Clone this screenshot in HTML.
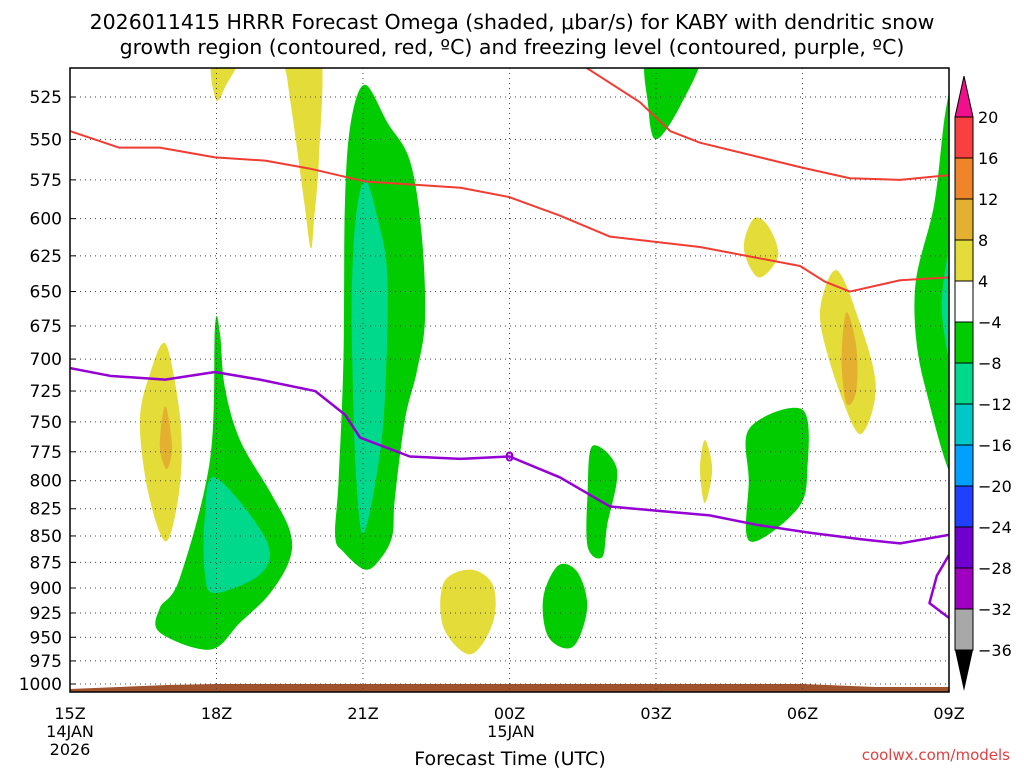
<!DOCTYPE html>
<html><head><meta charset="utf-8"><style>
body{margin:0;background:#fff;width:1024px;height:768px;overflow:hidden}
svg text{font-family:"DejaVu Sans","Liberation Sans",sans-serif}
</style></head><body>
<svg id="c" width="1024" height="768" xmlns="http://www.w3.org/2000/svg">
<text x="512" y="29" font-size="20.5" text-anchor="middle">2026011415 HRRR Forecast Omega (shaded, μbar/s) for KABY with dendritic snow</text>
<text x="512" y="54" font-size="20.5" text-anchor="middle">growth region (contoured, red, ºC) and freezing level (contoured, purple, ºC)</text>
<g id="plot"></g>
<text x="510" y="765" font-size="19" text-anchor="middle">Forecast Time (UTC)</text>
<text x="1010" y="760" font-size="15" fill="#e04040" text-anchor="end">coolwx.com/models</text>
</svg>
<script>
const pressureTicks=[525,550,575,600,625,650,675,700,725,750,775,800,825,850,875,900,925,950,975,1000];
const hourTicks=[0,3,6,9,12,15,18];
const hourLabels=["15Z","18Z","21Z","00Z","03Z","06Z","09Z"];
const cbLevels=["20","16","12","8","4","\u22124","\u22128","\u221212","\u221216","\u221220","\u221224","\u221228","\u221232","\u221236"];
const cbColors=["#f84040","#f08428","#e4b030","#e4dc38","#ffffff","#00cc00","#00d88c","#00c8c8","#00a0ff","#2040ff","#7000d0","#a000c0","#a8a8a8"];
const redLine1=[[0,545],[1,555],[1.84,555],[2.97,561],[4,563],[4.92,568],[6.04,576],[8,580],[9,586],[10.03,598],[11.06,612],[12.9,619],[14.95,632],[15.46,643],[15.97,650],[17,642],[18,640]];
const redLine2=[[10.55,508],[11.67,528],[12.29,545],[12.9,552],[14.95,567],[15.97,574],[17,575],[18,572]];
const purpleLine1=[[0,707],[0.82,713],[1.95,716],[2.97,710],[3.89,716],[5.02,725],[5.63,744],[5.94,763],[6.96,779],[8,781],[9,779],[10.03,797],[11.06,823],[12.08,827],[13.1,831],[14.1,840],[15.15,847],[16.18,853],[17,857],[18,849]];
const purpleLine2=[[18,868],[17.75,888],[17.6,915],[18,930]];
const blobs=[
 {c:"#e4dc38",n:"yellow-blob-top",p:[[2.9,506],[3.4,506],[3.2,518],[3.0,527]]},
 {c:"#e4dc38",n:"yellow-column",p:[[4.4,500],[5.12,500],[5.1,560],[5.0,600],[4.93,620],[4.8,590],[4.6,545],[4.45,515]]},
 {c:"#00cc00",n:"green-21z",p:[[6.04,518],[6.5,540],[6.96,563],[7.2,610],[7.27,670],[7.1,710],[6.86,748],[6.65,817],[6.6,850],[6.35,872],[6.04,882],[5.6,865],[5.43,850],[5.5,800],[5.6,700],[5.63,590],[5.75,540]]},
 {c:"#00d88c",n:"teal-21z",p:[[6.04,575],[6.3,600],[6.5,640],[6.45,730],[6.3,790],[6.0,848],[5.85,790],[5.78,700],[5.77,650],[5.85,600]]},
 {c:"#00cc00",n:"green-18z",p:[[2.97,675],[3.07,680],[3.17,722],[3.48,765],[4.1,810],[4.5,845],[4.5,872],[4.1,905],[3.48,935],[2.87,963],[1.84,945],[1.84,920],[2.25,890],[2.87,781]]},
 {c:"#00d88c",n:"teal-18z",p:[[2.97,797],[4.0,852],[3.93,885],[2.97,905],[2.76,885],[2.76,833]]},
 {c:"#e4dc38",n:"yellow-17z",p:[[1.95,688],[2.2,730],[2.29,773],[2.2,820],[1.95,855],[1.6,810],[1.43,749],[1.65,710]]},
 {c:"#e4b030",n:"orange-17z",p:[[1.95,737],[2.09,770],[1.98,790],[1.84,770]]},
 {c:"#e4dc38",n:"yellow-23z",p:[[7.65,895],[8.2,882],[8.66,897],[8.66,935],[8.2,968],[7.65,940]]},
 {c:"#00cc00",n:"green-01z",p:[[10.0,878],[10.4,885],[10.59,920],[10.3,960],[9.8,950],[9.69,910]]},
 {c:"#00cc00",n:"green-02z",p:[[10.7,770],[11.2,790],[11.0,840],[10.9,870],[10.6,860],[10.6,810]]},
 {c:"#00cc00",n:"green-03z-top",p:[[11.84,500],[12.9,500],[12.5,530],[12.0,550],[11.84,530]]},
 {c:"#e4dc38",n:"yellow-04z",p:[[13.0,765],[13.15,790],[13.0,820],[12.9,790]]},
 {c:"#00cc00",n:"green-05z",p:[[13.92,755],[15.0,740],[15.1,790],[14.9,825],[13.92,855],[13.9,800]]},
 {c:"#e4dc38",n:"yellow-05z",p:[[14.0,600],[14.3,605],[14.5,625],[14.1,640],[13.8,620]]},
 {c:"#e4dc38",n:"yellow-07z",p:[[15.4,655],[15.7,635],[16.1,665],[16.5,720],[16.2,760],[15.8,730],[15.4,680]]},
 {c:"#e4b030",n:"orange-07z",p:[[15.9,665],[16.1,690],[16.1,725],[15.9,735],[15.8,700]]},
 {c:"#00cc00",n:"green-09z",p:[[18.3,500],[18.3,790],[17.5,720],[17.3,650],[17.7,590],[17.95,530]]},
 {c:"#00d88c",n:"teal-09z",p:[[18.2,600],[18.2,720],[17.85,660]]}
];
const L=70,R=949,T=68,B=692;
const X=h=>L+(R-L)*h/18;
const Y=p=>684+911*Math.log(p/1000);
const NS="http://www.w3.org/2000/svg";
const g=document.getElementById('plot');
function mk(t,a,parent){const e=document.createElementNS(NS,t);for(const k in a)e.setAttribute(k,a[k]);(parent||g).appendChild(e);return e;}
function smoothClosed(pts){
 const n=pts.length;let d='M'+pts[0][0]+','+pts[0][1];
 for(let i=0;i<n;i++){
  const p0=pts[(i-1+n)%n],p1=pts[i],p2=pts[(i+1)%n],p3=pts[(i+2)%n];
  const c1=[p1[0]+(p2[0]-p0[0])/6,p1[1]+(p2[1]-p0[1])/6];
  const c2=[p2[0]-(p3[0]-p1[0])/6,p2[1]-(p3[1]-p1[1])/6];
  d+=` C${c1[0]},${c1[1]} ${c2[0]},${c2[1]} ${p2[0]},${p2[1]}`;
 }
 return d+'Z';
}
const cp=mk('clipPath',{id:'clip'});mk('rect',{x:L,y:T,width:R-L,height:B-T},cp);
const inner=mk('g',{'clip-path':'url(#clip)'});
blobs.forEach(b=>{
 const e=mk('path',{d:smoothClosed(b.p.map(q=>[X(q[0]),Y(q[1])])),fill:b.c},inner);
 
 
});
const terr=mk('polygon',{points:`${L},${B} ${L},689 ${X(2)},685 ${X(3)},684 ${X(15)},684 ${X(16.5)},687 ${R},687 ${R},${B}`,fill:'#a0522d'},inner);


pressureTicks.forEach(p=>{
 const y=Y(p);
 const gl=mk('line',{x1:L,x2:R,y1:y,y2:y,stroke:'#444','stroke-width':1,'stroke-dasharray':'1,4'},inner);
 
 
 const t=mk('text',{x:62,y:y+6,'font-size':17,'text-anchor':'end'});t.textContent=p;
 
 
 mk('line',{x1:L,x2:L+6,y1:y,y2:y,stroke:'#000'});
});
hourTicks.forEach((h,i)=>{
 const x=X(h);
 const gl=mk('line',{x1:x,x2:x,y1:T,y2:B,stroke:'#444','stroke-width':1,'stroke-dasharray':'1,4'},inner);
 
 
 const t=mk('text',{x:x,y:719,'font-size':16,'text-anchor':'middle'});t.textContent=hourLabels[i];
 
 
});
[["14JAN",70,737],["2026",70,755],["15JAN",511,737]].forEach(a=>{const t=mk('text',{x:a[1],y:a[2],'font-size':16,'text-anchor':'middle'});t.textContent=a[0];
 
 });
function drawLine(pts,col,w,name){const e=mk('polyline',{points:pts.map(q=>X(q[0])+','+Y(q[1])).join(' '),fill:'none',stroke:col,'stroke-width':w,'stroke-linejoin':'round'},inner);
 
 }
drawLine(redLine1,'#f03c32',2,'dgz-line-lower');
drawLine(redLine2,'#f03c32',2,'dgz-line-upper');
drawLine(purpleLine1,'#9400d3',2.5,'freezing-level-line');
drawLine(purpleLine2,'#9400d3',2.5,'freezing-level-line-2');
const zl=mk('text',{x:X(9),y:Y(779)+5,'font-size':13,'text-anchor':'middle',fill:'#9400d3','font-weight':'bold'});zl.textContent='0';


const fr=mk('rect',{x:L,y:T,width:R-L,height:B-T,fill:'none',stroke:'#000','stroke-width':1.5});


const cbX=955,cbW=18,cbTop=117,cbStep=41;
const up=mk('polygon',{points:`${cbX},${cbTop} ${cbX+cbW},${cbTop} ${cbX+cbW/2},76`,fill:'#f0108c',stroke:'#000'});


cbColors.forEach((c,i)=>{const r=mk('rect',{x:cbX,y:cbTop+i*cbStep,width:cbW,height:cbStep,fill:c,stroke:'#000'});
 
 });
const cbBot=cbTop+cbColors.length*cbStep;
const dn=mk('polygon',{points:`${cbX},${cbBot} ${cbX+cbW},${cbBot} ${cbX+cbW/2},691`,fill:'#000'});


cbLevels.forEach((l,i)=>{const t=mk('text',{x:978,y:cbTop+i*cbStep+6,'font-size':16});t.textContent=l;
 
 });
</script>
</body></html>
